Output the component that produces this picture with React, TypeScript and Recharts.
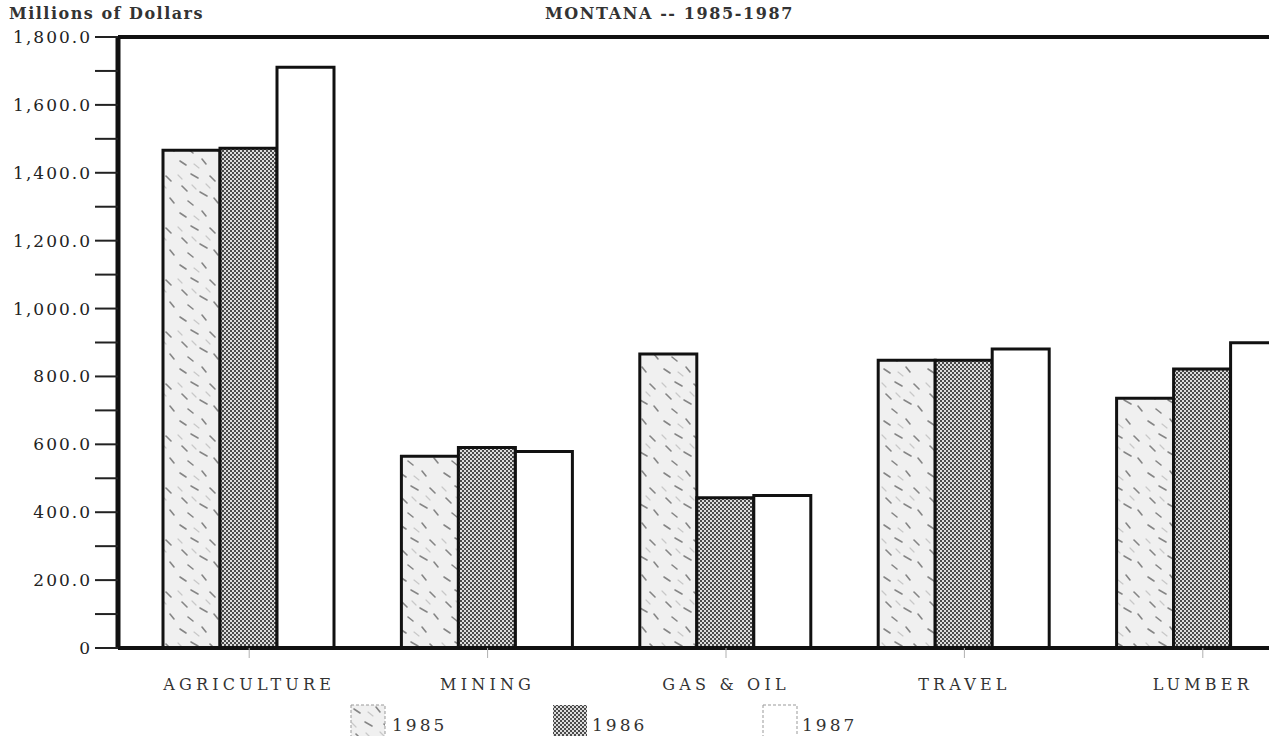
import React from 'react';
import { BarChart, Bar, XAxis, YAxis, ReferenceLine } from 'recharts';

// Montana -- 1985-1987, millions of dollars
const categories = ['AGRICULTURE', 'MINING', 'GAS & OIL', 'TRAVEL', 'LUMBER'];
const values1985 = [1466, 565, 866, 848, 736];
const values1986 = [1472, 591, 443, 848, 822];
const values1987 = [1711, 579, 449, 881, 899];
const yTicks = [0, 100, 200, 300, 400, 500, 600, 700, 800, 900, 1000, 1100, 1200, 1300, 1400, 1500, 1600, 1700, 1800];
const years = ['1985', '1986', '1987'];

const data = categories.map((name, i) => ({
  name,
  y1985: values1985[i],
  y1986: values1986[i],
  y1987: values1987[i],
}));

const FONT = '"DejaVu Serif", "Liberation Serif", serif';

const fills: Record<string, string> = {
  '1985': 'url(#speckle)',
  '1986': 'url(#checker)',
  '1987': '#ffffff',
};

const formatY = (v: number) => {
  if (v % 200 !== 0) return '';
  if (v === 0) return '0';
  return v.toLocaleString('en-US', { minimumFractionDigits: 1, maximumFractionDigits: 1 });
};

function Patterns() {
  return (
    <svg width={0} height={0} style={{ position: 'absolute' }}>
      <defs>
        <pattern id="speckle" width={44} height={52} patternUnits="userSpaceOnUse">
          <rect width={44} height={52} fill="#f0f0f0" />
          <g stroke="#858585" strokeWidth={1.6} strokeLinecap="round">
            <line x1={4} y1={5} x2={10} y2={9} />
            <line x1={26} y1={3} x2={30} y2={8} />
            <line x1={15} y1={18} x2={22} y2={22} />
            <line x1={34} y1={20} x2={39} y2={25} />
            <line x1={6} y1={30} x2={11} y2={35} />
            <line x1={24} y1={36} x2={31} y2={40} />
            <line x1={38} y1={42} x2={42} y2={47} />
            <line x1={12} y1={45} x2={17} y2={49} />
          </g>
          <g stroke="#c8c8c8" strokeWidth={1.2} strokeLinecap="round">
            <line x1={18} y1={8} x2={23} y2={12} />
            <line x1={2} y1={19} x2={6} y2={23} />
            <line x1={30} y1={28} x2={34} y2={32} />
            <line x1={16} y1={29} x2={20} y2={33} />
          </g>
        </pattern>
        <pattern id="checker" width={4} height={4} patternUnits="userSpaceOnUse">
          <rect width={4} height={4} fill="#dcdcdc" />
          <rect x={0} y={0} width={2} height={2} fill="#4a4a4a" />
          <rect x={2} y={2} width={2} height={2} fill="#4a4a4a" />
        </pattern>
      </defs>
    </svg>
  );
}

const legendPos = [
  { box: 350, text: 392 },
  { box: 552, text: 592 },
  { box: 762, text: 802 },
];

export default function App() {
  return (
    <div
      style={{
        position: 'fixed',
        left: 0,
        top: 0,
        width: 1269,
        height: 736,
        overflow: 'hidden',
        background: '#fff',
        fontFamily: FONT,
      }}
    >
      <Patterns />
      <div
        style={{
          position: 'absolute',
          left: 9,
          top: 4,
          fontSize: 16,
          fontWeight: 'bold',
          letterSpacing: 1.5,
          color: '#333',
          whiteSpace: 'nowrap',
        }}
      >
        Millions of Dollars
      </div>
      <div
        style={{
          position: 'absolute',
          left: 545,
          top: 4,
          fontSize: 16,
          fontWeight: 'bold',
          letterSpacing: 1.6,
          color: '#333',
          whiteSpace: 'nowrap',
        }}
      >
        MONTANA -- 1985-1987
      </div>

      <BarChart
        width={1332}
        height={736}
        data={data}
        margin={{ top: 37, right: 10, left: 0, bottom: 48 }}
        barCategoryGap={33}
        barGap={0}
      >
        <XAxis
          dataKey="name"
          height={40}
          padding={{ left: 12, right: 0 }}
          axisLine={{ stroke: '#111', strokeWidth: 4 }}
          tickLine={{ stroke: '#b0b0b0', strokeWidth: 1 }}
          tickSize={10}
          tickMargin={21}
          tick={{ fill: '#333', fontSize: 16, fontFamily: FONT, letterSpacing: 4.2 }}
        />
        <YAxis
          domain={[0, 1800]}
          ticks={yTicks}
          interval={0}
          width={118}
          tickFormatter={formatY}
          axisLine={{ stroke: '#111', strokeWidth: 5 }}
          tickLine={{ stroke: '#222', strokeWidth: 2 }}
          tickSize={23}
          tickMargin={3}
          tick={{ fill: '#222', fontSize: 17, fontFamily: FONT, letterSpacing: 2 }}
        />
        <ReferenceLine y={1800} stroke="#111" strokeWidth={4} />
        {years.map((yr) => (
          <Bar
            key={yr}
            dataKey={`y${yr}`}
            name={yr}
            fill={fills[yr]}
            stroke="#111"
            strokeWidth={3}
            isAnimationActive={false}
          />
        ))}
      </BarChart>

      {years.map((yr, i) => (
        <React.Fragment key={yr}>
          <svg
            width={36}
            height={34}
            style={{ position: 'absolute', left: legendPos[i].box, top: 704 }}
          >
            <rect
              x={1}
              y={1}
              width={34}
              height={40}
              fill={fills[yr]}
              stroke={yr === '1986' ? 'none' : '#999'}
              strokeWidth={1}
              strokeDasharray={yr === '1986' ? undefined : '3 2'}
            />
          </svg>
          <div
            style={{
              position: 'absolute',
              left: legendPos[i].text,
              top: 715,
              fontSize: 17,
              letterSpacing: 3,
              color: '#333',
              whiteSpace: 'nowrap',
            }}
          >
            {yr}
          </div>
        </React.Fragment>
      ))}
    </div>
  );
}
